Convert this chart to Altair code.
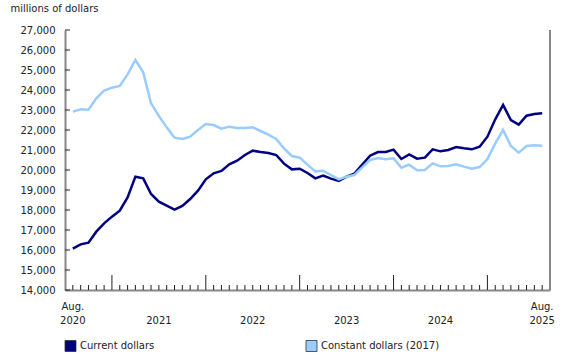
import altair as alt
import pandas as pd

# ---- data ----
months = pd.date_range("2020-08-01", "2025-08-01", freq="MS")
current = [16067, 16283, 16367, 16917, 17333, 17667, 17967, 18633, 19667, 19583,
           18800, 18417, 18217, 18017, 18200, 18550, 18967, 19533, 19833, 19950,
           20283, 20467, 20750, 20967, 20900, 20850, 20750, 20317, 20033, 20067,
           19850, 19583, 19717, 19567, 19450, 19667, 19817, 20267, 20717, 20900,
           20900, 21017, 20550, 20783, 20567, 20617, 21033, 20933, 21000, 21150,
           21083, 21033, 21167, 21667, 22533, 23250, 22500, 22267, 22717, 22800,
           22833]
constant = [22917, 23033, 23017, 23583, 23967, 24117, 24200, 24783, 25500, 24883,
            23333, 22700, 22133, 21617, 21550, 21667, 22000, 22300, 22250, 22067,
            22167, 22100, 22100, 22133, 21950, 21767, 21550, 21075, 20700, 20617,
            20267, 19933, 19967, 19750, 19533, 19667, 19750, 20133, 20500, 20600,
            20533, 20583, 20117, 20267, 19983, 20000, 20333, 20183, 20200, 20283,
            20167, 20067, 20150, 20550, 21333, 22000, 21200, 20867, 21200, 21233,
            21217]
series_names = ["Current dollars", "Constant dollars (2017)"]
series_colors = ["#000080", "#99ccff"]
y_ticks = list(range(14000, 27001, 1000))
month_label_months = ["2020-08", "2025-08"]
month_label_text = ["Aug.", "Aug."]
year_label_months = ["2020-08", "2021-07", "2022-07", "2023-07", "2024-07", "2025-08"]
year_label_text = ["2020", "2021", "2022", "2023", "2024", "2025"]
y_title = "millions of dollars"

# ---- tables ----
month_keys = [m.strftime("%Y-%m") for m in months]
rows = []
for k, (name, vals) in enumerate(zip(series_names, [current, constant])):
    for i, v in enumerate(vals):
        rows.append({"i": i, "series": name, "value": v, "order": k})
df = pd.DataFrame(rows)
ticks_df = pd.DataFrame({"i": list(range(len(months))),
                         "major": [m.month == 1 for m in months]})
ylab_df = pd.DataFrame({"value": y_ticks})
mlab_df = pd.DataFrame({"i": [month_keys.index(m) for m in month_label_months],
                        "text": month_label_text})
ylabel_df = pd.DataFrame({"i": [month_keys.index(m) for m in year_label_months],
                          "text": year_label_text})
one = pd.DataFrame({"a": [0]})

FONT = "DejaVu Sans"
TXT = "#222222"
W, H = 485, 260
xs = alt.Scale(domain=[-1, len(months)], nice=False, zero=False)
ys = alt.Scale(domain=[14000, 27000], nice=False, zero=False)
cs = alt.Scale(domain=series_names, range=series_colors)

x_axis = alt.Axis(labels=False, ticks=False, grid=False, title=None,
                  domainColor="#888888", domainWidth=2)
y_axis = alt.Axis(values=y_ticks, format=",.0f", ticks=False, grid=False,
                  labelPadding=10, labelFont=FONT, labelFontSize=10,
                  labelColor=TXT,
                  domainColor="#888888", domainWidth=2,
                  title=y_title, titleAngle=0, titleAlign="left",
                  titleBaseline="alphabetic", titleX=-55, titleY=-19,
                  titleFont=FONT, titleFontSize=10,
                  titleFontWeight="normal", titleColor=TXT)

X = alt.X("i:Q", scale=xs, axis=x_axis)
Y = alt.Y("value:Q", scale=ys, axis=y_axis)

lines = alt.Chart(df).mark_line(strokeWidth=2.5).encode(
    x=X, y=Y,
    color=alt.Color("series:N", scale=cs, legend=None),
    order=alt.Order("order:Q"),
)

minor_ticks = alt.Chart(ticks_df).transform_filter("!datum.major").mark_rule(
    color=TXT, strokeWidth=1
).encode(x=X, y=alt.value(H - 5), y2=alt.value(H))

major_ticks = alt.Chart(ticks_df).transform_filter("datum.major").mark_rule(
    color=TXT, strokeWidth=1
).encode(x=X, y=alt.value(H - 15), y2=alt.value(H))

y_tick_marks = alt.Chart(ylab_df).mark_rule(color=TXT, strokeWidth=1).encode(
    y=Y, x=alt.value(0), x2=alt.value(5)
)

right_border = alt.Chart(one).mark_rule(color="#888888", strokeWidth=2).encode(
    x=alt.value(W), y=alt.value(0), y2=alt.value(H)
)

month_labels = alt.Chart(mlab_df).mark_text(
    font=FONT, fontSize=10, color=TXT, baseline="middle"
).encode(x=X, y=alt.value(277), text="text:N")

year_labels = alt.Chart(ylabel_df).mark_text(
    font=FONT, fontSize=10, color=TXT, baseline="middle"
).encode(x=X, y=alt.value(291), text="text:N")

# legend (swatch + label per series)
legend_swatch_x = [5.5, 246.5]
legend_layers = []
for name, col, sx in zip(series_names, series_colors, legend_swatch_x):
    legend_layers.append(
        alt.Chart(one).mark_square(size=121, fill=col, stroke="#333333",
                                   strokeWidth=0.8, opacity=1)
        .encode(x=alt.value(sx), y=alt.value(316))
    )
    legend_layers.append(
        alt.Chart(one).mark_text(font=FONT, fontSize=10, color=TXT,
                                 align="left", baseline="middle")
        .encode(x=alt.value(sx + 9.5), y=alt.value(316), text=alt.value(name))
    )

chart = alt.layer(
    lines, minor_ticks, major_ticks, y_tick_marks, right_border,
    month_labels, year_labels, *legend_layers
).properties(
    width=W, height=H,
    autosize=alt.AutoSizeParams(type="none"),
    padding={"left": 65, "top": 30, "right": 30, "bottom": 70},
).configure_view(stroke=None)

chart.save("out.html", embed_options={"renderer": "svg", "actions": False})
